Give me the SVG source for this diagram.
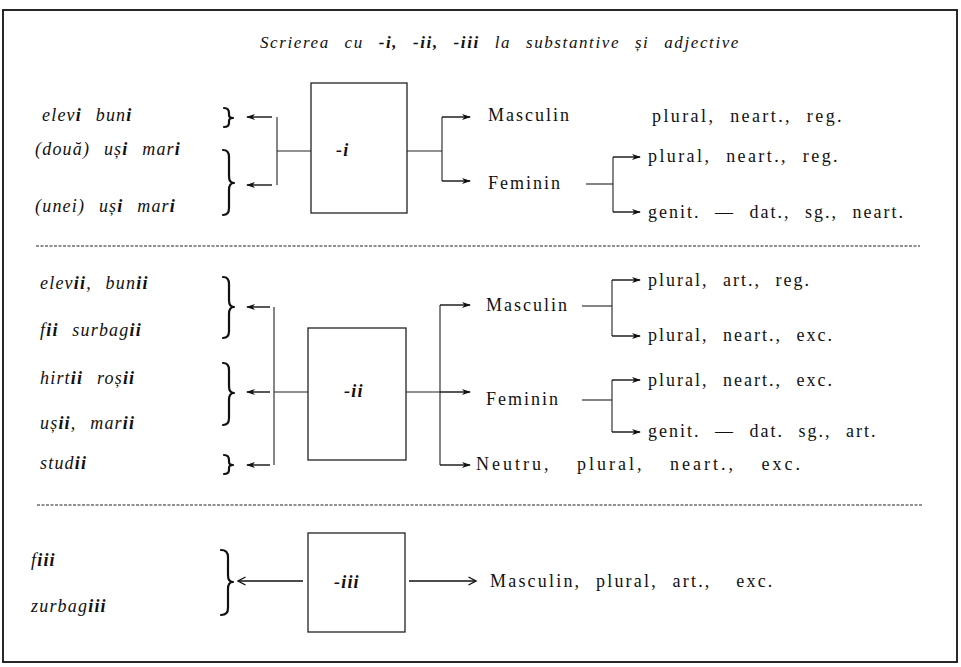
<svg xmlns="http://www.w3.org/2000/svg" width="961" height="667" viewBox="0 0 961 667">
<defs>
<style>
.it{font-family:"Liberation Serif","Times New Roman",serif;font-style:italic;font-size:18px;letter-spacing:1.2px;word-spacing:8px;fill:#111}
.rm{font-family:"Liberation Serif","Times New Roman",serif;font-size:18px;letter-spacing:2px;word-spacing:8px;fill:#111}
.ttl{font-family:"Liberation Serif","Times New Roman",serif;font-style:italic;font-size:17px;letter-spacing:1.6px;word-spacing:9px;fill:#111}
.b{font-weight:bold}
.box{fill:none;stroke:#222;stroke-width:1.3}
.ln{fill:none;stroke:#222;stroke-width:1.1}
.ar{fill:none;stroke:#111;stroke-width:1.4;marker-end:url(#ah)}
.ao{fill:none;stroke:#111;stroke-width:1.4;marker-end:url(#oh)}
.br{fill:none;stroke:#111;stroke-width:2.2;stroke-linecap:round;stroke-linejoin:round}
.dash{fill:none;stroke:#222;stroke-width:1.2;stroke-dasharray:3 1.5}
</style>
<marker id="ah" markerWidth="9" markerHeight="7" refX="8" refY="3.5" orient="auto" markerUnits="userSpaceOnUse">
<path d="M0,0.5 L9,3.5 L0,6.5 L2.5,3.5 z" fill="#111"/>
</marker>
<marker id="oh" markerWidth="10" markerHeight="10" refX="8.5" refY="5" orient="auto" markerUnits="userSpaceOnUse">
<path d="M1,1 L8.5,5 L1,9" fill="none" stroke="#111" stroke-width="1.4"/>
</marker>
</defs>
<rect x="0" y="0" width="961" height="667" fill="#fff"/>
<rect x="3" y="10" width="954" height="652" fill="none" stroke="#111" stroke-width="1.8"/>

<text class="ttl" x="500" y="48" text-anchor="middle">Scrierea cu <tspan class="b">-i, -ii, -iii</tspan> la substantive și adjective</text>

<line class="dash" x1="36" y1="246" x2="920" y2="246"/>
<line class="dash" x1="37" y1="505" x2="922" y2="505"/>

<!-- Section 1 -->
<g id="s1-words">
<text class="it" x="42" y="121">elev<tspan class="b">i</tspan> bun<tspan class="b">i</tspan></text>
<text class="it" x="35" y="155">(două) uș<tspan class="b">i</tspan> mar<tspan class="b">i</tspan></text>
<text class="it" x="35" y="212">(unei) uș<tspan class="b">i</tspan> mar<tspan class="b">i</tspan></text>
<path class="br" d="M224,108 Q229,108 229,113 L229,115 Q229,118 233,118 Q229,118 229,121 L229,123 Q229,127 224,127"/>
<path class="br" d="M223,150 Q229,150 229,157 L229,176 Q229,183 234,183 Q229,183 229,190 L229,208 Q229,215 223,215"/>
</g>
<g id="box-i">
<rect class="box" x="311" y="83" width="96" height="130"/>
<text class="it b" x="336" y="156">-i</text>
</g>
<g id="s1-right">
<text class="rm" x="488" y="121">Masculin</text>
<text class="rm" x="652" y="122" style="letter-spacing:2.4px">plural, neart., reg.</text>
<text class="rm" x="488" y="189">Feminin</text>
<text class="rm" x="648" y="162" style="letter-spacing:2.4px">plural, neart., reg.</text>
<text class="rm" x="648" y="218">genit. — dat., sg., neart.</text>
</g>

<!-- Section 2 -->
<g id="s2-words">
<text class="it" x="40" y="289">elev<tspan class="b">ii</tspan>, bun<tspan class="b">ii</tspan></text>
<text class="it" x="40" y="336">f<tspan class="b">ii</tspan> surbag<tspan class="b">ii</tspan></text>
<text class="it" x="40" y="384">hirt<tspan class="b">ii</tspan> roș<tspan class="b">ii</tspan></text>
<text class="it" x="40" y="429">uș<tspan class="b">ii</tspan>, mar<tspan class="b">ii</tspan></text>
<text class="it" x="40" y="469">stud<tspan class="b">ii</tspan></text>
<path class="br" d="M223,277 Q229,277 229,284 L229,300 Q229,307 234,307 Q229,307 229,314 L229,331 Q229,338 223,338"/>
<path class="br" d="M223,363 Q229,363 229,370 L229,386 Q229,393 234,393 Q229,393 229,400 L229,418 Q229,425 223,425"/>
<path class="br" d="M224,455 Q229,455 229,460 L229,462 Q229,465 233,465 Q229,465 229,468 L229,470 Q229,474 224,474"/>
</g>
<g id="box-ii">
<rect class="box" x="308" y="328" width="98" height="132"/>
<text class="it b" x="344" y="397">-ii</text>
</g>
<g id="s2-right">
<text class="rm" x="486" y="311">Masculin</text>
<text class="rm" x="648" y="286">plural, art., reg.</text>
<text class="rm" x="648" y="341">plural, neart., exc.</text>
<text class="rm" x="486" y="405">Feminin</text>
<text class="rm" x="648" y="386">plural, neart., exc.</text>
<text class="rm" x="648" y="437">genit. — dat. sg., art.</text>
<text class="rm" x="476" y="470" style="letter-spacing:3px;word-spacing:18px">Neutru, plural, neart., exc.</text>
</g>

<!-- Section 3 -->
<g id="s3-words">
<text class="it" x="31" y="566">f<tspan class="b">iii</tspan></text>
<text class="it" x="31" y="612">zurbag<tspan class="b">iii</tspan></text>
<path class="br" d="M221,550 Q228,550 228,557 L228,575 Q228,582 233,582 Q228,582 228,589 L228,608 Q228,615 221,615"/>
</g>
<g id="box-iii">
<rect class="box" x="308" y="533" width="97" height="99"/>
<text class="it b" x="334" y="588">-iii</text>
</g>
<g id="s3-right">
<text class="rm" x="490" y="587" style="letter-spacing:2.2px">Masculin, plural, art., <tspan dx="10">exc.</tspan></text>
</g>

<g id="connectors">
<!-- section 1 left -->
<line class="ln" x1="277" y1="117" x2="277" y2="185"/>
<line class="ln" x1="277" y1="151" x2="311" y2="151"/>
<line class="ar" x1="272" y1="117" x2="247" y2="117"/>
<line class="ar" x1="272" y1="185" x2="247" y2="185"/>
<!-- section 1 right -->
<line class="ln" x1="407" y1="151" x2="442" y2="151"/>
<line class="ln" x1="442" y1="117" x2="442" y2="181"/>
<line class="ar" x1="442" y1="117" x2="470" y2="117"/>
<line class="ar" x1="442" y1="181" x2="470" y2="181"/>
<line class="ln" x1="586" y1="184" x2="613" y2="184"/>
<line class="ln" x1="613" y1="157" x2="613" y2="212"/>
<line class="ar" x1="613" y1="157" x2="640" y2="157"/>
<line class="ar" x1="613" y1="212" x2="640" y2="212"/>
<!-- section 2 left -->
<line class="ln" x1="274" y1="307" x2="274" y2="465"/>
<line class="ln" x1="274" y1="392" x2="308" y2="392"/>
<line class="ar" x1="270" y1="307" x2="247" y2="307"/>
<line class="ar" x1="270" y1="392" x2="247" y2="392"/>
<line class="ar" x1="270" y1="465" x2="247" y2="465"/>
<!-- section 2 right -->
<line class="ln" x1="406" y1="392" x2="440" y2="392"/>
<line class="ln" x1="440" y1="305" x2="440" y2="465"/>
<line class="ar" x1="440" y1="305" x2="470" y2="305"/>
<line class="ar" x1="440" y1="392" x2="470" y2="392"/>
<line class="ar" x1="440" y1="465" x2="470" y2="465"/>
<line class="ln" x1="582" y1="306" x2="612" y2="306"/>
<line class="ln" x1="612" y1="280" x2="612" y2="336"/>
<line class="ar" x1="612" y1="280" x2="640" y2="280"/>
<line class="ar" x1="612" y1="336" x2="640" y2="336"/>
<line class="ln" x1="582" y1="400" x2="612" y2="400"/>
<line class="ln" x1="612" y1="380" x2="612" y2="432"/>
<line class="ar" x1="612" y1="380" x2="640" y2="380"/>
<line class="ar" x1="612" y1="432" x2="640" y2="432"/>
<!-- section 3 -->
<line class="ao" x1="303" y1="581" x2="238" y2="581"/>
<line class="ao" x1="409" y1="581" x2="476" y2="581"/>
</g>
</svg>
